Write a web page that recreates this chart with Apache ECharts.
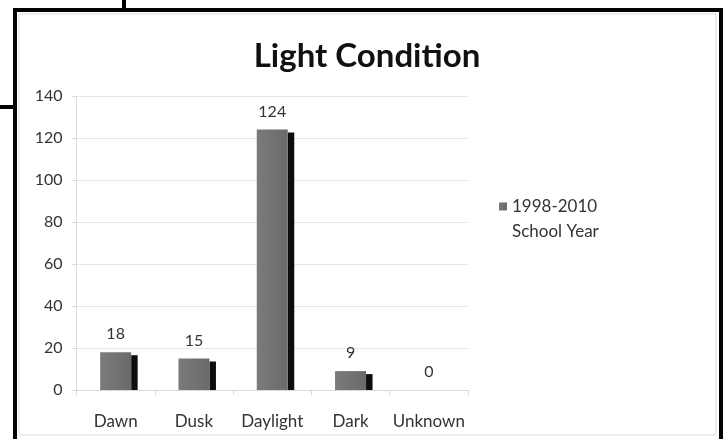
<!DOCTYPE html>
<html>
<head>
<meta charset="utf-8">
<script src="https://cdn.jsdelivr.net/npm/echarts@6/dist/echarts.min.js"></script>
<style>
html,body{margin:0;padding:0;background:#fff;}
#chart{width:723px;height:439px;}
</style>
</head>
<body>
<div id="chart"></div>
<script>
const categories = ['Dawn', 'Dusk', 'Daylight', 'Dark', 'Unknown'];
const counts = [18, 15, 124, 9, 0];
const seriesName = '1998-2010\nSchool Year';
const yTicks = { min: 0, max: 140, interval: 20 };
const titleText = 'Light Condition';

const chart = echarts.init(document.getElementById('chart'));
const FONT = 'Lato';

chart.setOption({
  backgroundColor: '#ffffff',
  animation: false,
  title: {
    text: titleText,
    left: 362, top: 35, textAlign: 'center',
    textStyle: { fontFamily: FONT, fontWeight: 'bold', fontSize: 33, color: '#111' }
  },
  legend: {
    data: [seriesName],
    left: 494, top: 164,
    itemWidth: 8, itemHeight: 8, itemGap: 0,
    selectedMode: false,
    icon: 'rect',
    formatter: function (name) { return '\n' + name; },
    textStyle: { fontFamily: FONT, fontSize: 17, color: '#333', lineHeight: 25 }
  },
  grid: { left: 76.5, right: 723 - 468, top: 96, bottom: 439 - 390, containLabel: false },
  xAxis: {
    type: 'category',
    data: categories,
    axisLine: { lineStyle: { color: '#d9d9d9' } },
    axisTick: { show: true, length: 5, lineStyle: { color: '#d9d9d9' } },
    axisLabel: { interval: 0, fontFamily: FONT, fontSize: 17, color: '#333', margin: 23 }
  },
  yAxis: {
    type: 'value',
    min: yTicks.min, max: yTicks.max, interval: yTicks.interval,
    axisLine: { show: true, lineStyle: { color: '#d9d9d9' } },
    axisTick: { show: true, length: 5, lineStyle: { color: '#d9d9d9' } },
    splitLine: { lineStyle: { color: '#e6e6e6' } },
    axisLabel: { fontFamily: FONT, fontSize: 16, color: '#333', margin: 14 }
  },
  series: [
    {
      name: 'shadow',
      type: 'custom',
      silent: true,
      z: 1,
      data: categories.map((c, i) => [i, counts[i]]),
      renderItem: function (params, api) {
        const v = api.value(1);
        if (!v) return null;
        const top = api.coord([api.value(0), v]);
        const base = api.coord([api.value(0), 0]);
        return {
          type: 'rect',
          shape: { x: top[0] + 15.5, y: top[1] + 3, width: 6.5, height: base[1] - top[1] - 3 },
          style: { fill: '#0d0d0d' }
        };
      }
    },
    {
      name: seriesName,
      type: 'bar',
      z: 2,
      barWidth: 31,
      data: counts,
      itemStyle: {
        color: new echarts.graphic.LinearGradient(0, 0, 1, 0, [
          { offset: 0, color: '#7b7b7b' },
          { offset: 1, color: '#6a6a6a' }
        ])
      },
      label: {
        show: true, position: 'top', distance: 10,
        fontFamily: FONT, fontSize: 16, color: '#333'
      }
    }
  ],
  graphic: [
    { type: 'rect', silent: true, shape: { x: 19, y: 14, width: 697, height: 421 }, style: { fill: 'none', stroke: '#e8e8e8', lineWidth: 1.5 } },
    { type: 'rect', silent: true, shape: { x: 15, y: 10, width: 706, height: 440 }, style: { fill: 'none', stroke: '#000', lineWidth: 4 } },
    { type: 'line', silent: true, shape: { x1: 124, y1: 0, x2: 124, y2: 10 }, style: { stroke: '#000', lineWidth: 4 } },
    { type: 'line', silent: true, shape: { x1: 0, y1: 107, x2: 15, y2: 107 }, style: { stroke: '#000', lineWidth: 4 } }
  ]
});
</script>
</body>
</html>
